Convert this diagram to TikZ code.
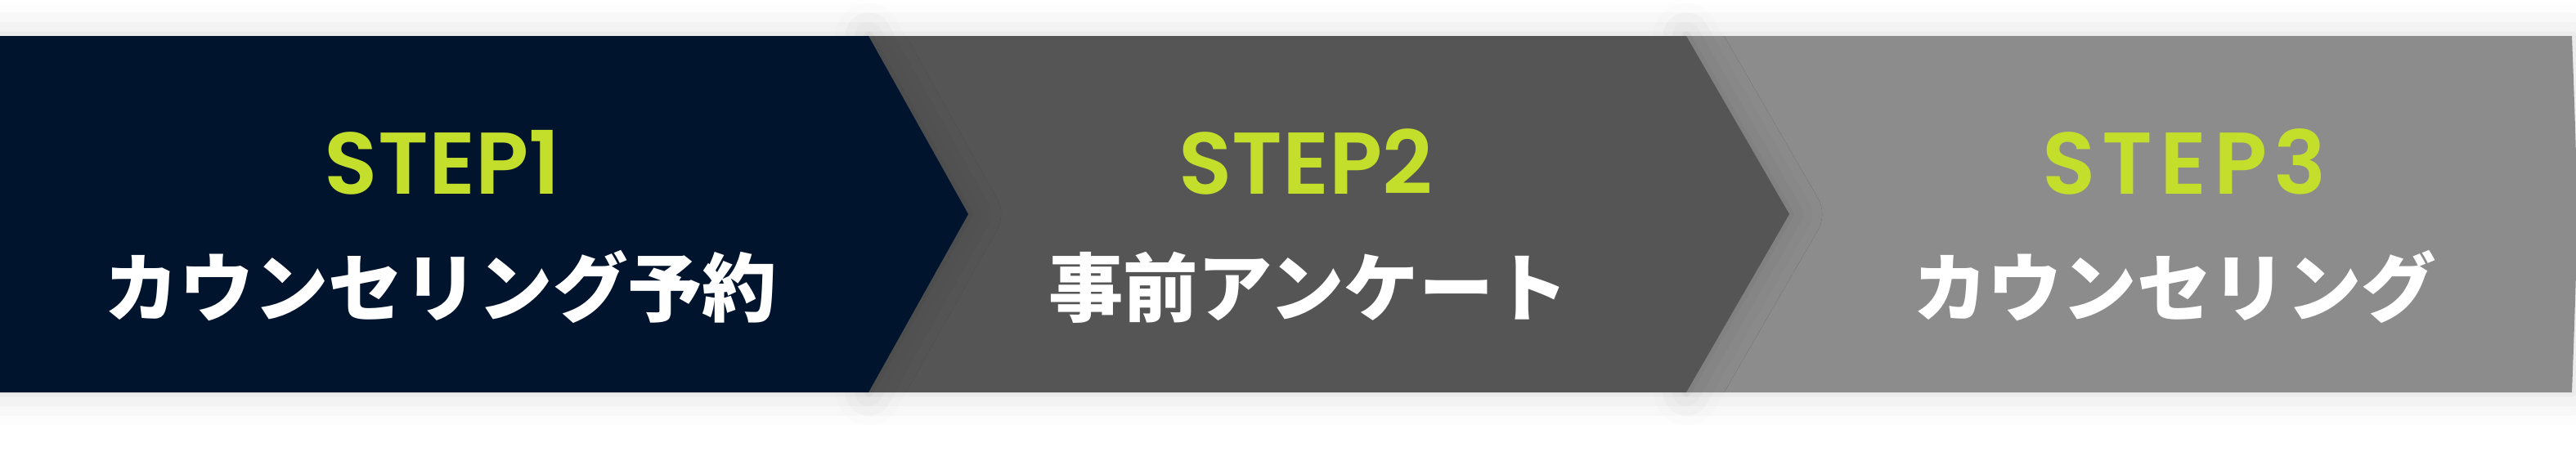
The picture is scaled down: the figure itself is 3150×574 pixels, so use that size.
\documentclass[tikz,border=0pt]{standalone}
\usepackage{fontspec}
\setmainfont{Poppins}[BoldFont={* SemiBold}]
\newfontfamily\jpfont{Noto Sans CJK JP}
\usetikzlibrary{positioning,shadows,shadows.blur}
\definecolor{navycolor}{RGB}{0,20,46}
\definecolor{darkcolor}{RGB}{85,85,85}
\definecolor{lightcolor}{RGB}{140,140,140}
\definecolor{stepcolor}{RGB}{195,222,43}

\begin{document}
\begin{tikzpicture}[%
    x=0.1mm, y=-0.1mm,          % one unit is one pixel of the layout
    ]
\tikzset{
  panel/.style={blur shadow={shadow xshift=0pt, shadow yshift=0pt,
      shadow blur radius=4mm, shadow opacity=15}},
  steptext/.style={anchor=base, text=stepcolor, font=\bfseries\fontsize{30.5}{30.5}\selectfont},
  stepwide/.style={steptext, font=\bfseries\fontsize{30.5}{30.5}\selectfont\addfontfeatures{LetterSpace=8}},
  jptext/.style={anchor=base, text=white, font=\jpfont\bfseries\fontsize{26}{26}\selectfont},
}
\useasboundingbox (0,0) rectangle (3150,574);

%panels, back to front
\fill [lightcolor, panel] (2062,44) -- (3145,44) .. controls (3153,262) .. (3145,480)
  -- (2062,480) -- cycle;
\fill [darkcolor, panel] (1062,44) -- (2062,44) -- (2188,262) -- (2062,480)
  -- (1062,480) -- cycle;
\fill [navycolor, panel] (0,44) -- (1062,44) -- (1184,262) -- (1062,480)
  -- (0,480) -- cycle;

%texts
\node [steptext] (s1) at (541,237) {STEP1};
\node [steptext] (s2) at (1597,237) {STEP2};
\node [stepwide] (s3) at (2671,237) {STEP3};

\node [jptext] (t1) at (539,386) {カウンセリング予約};
\node [jptext] (t2) at (1600,386) {事前アンケート};
\node [jptext] (t3) at (2659,386) {カウンセリング};

\end{tikzpicture}
\end{document}
